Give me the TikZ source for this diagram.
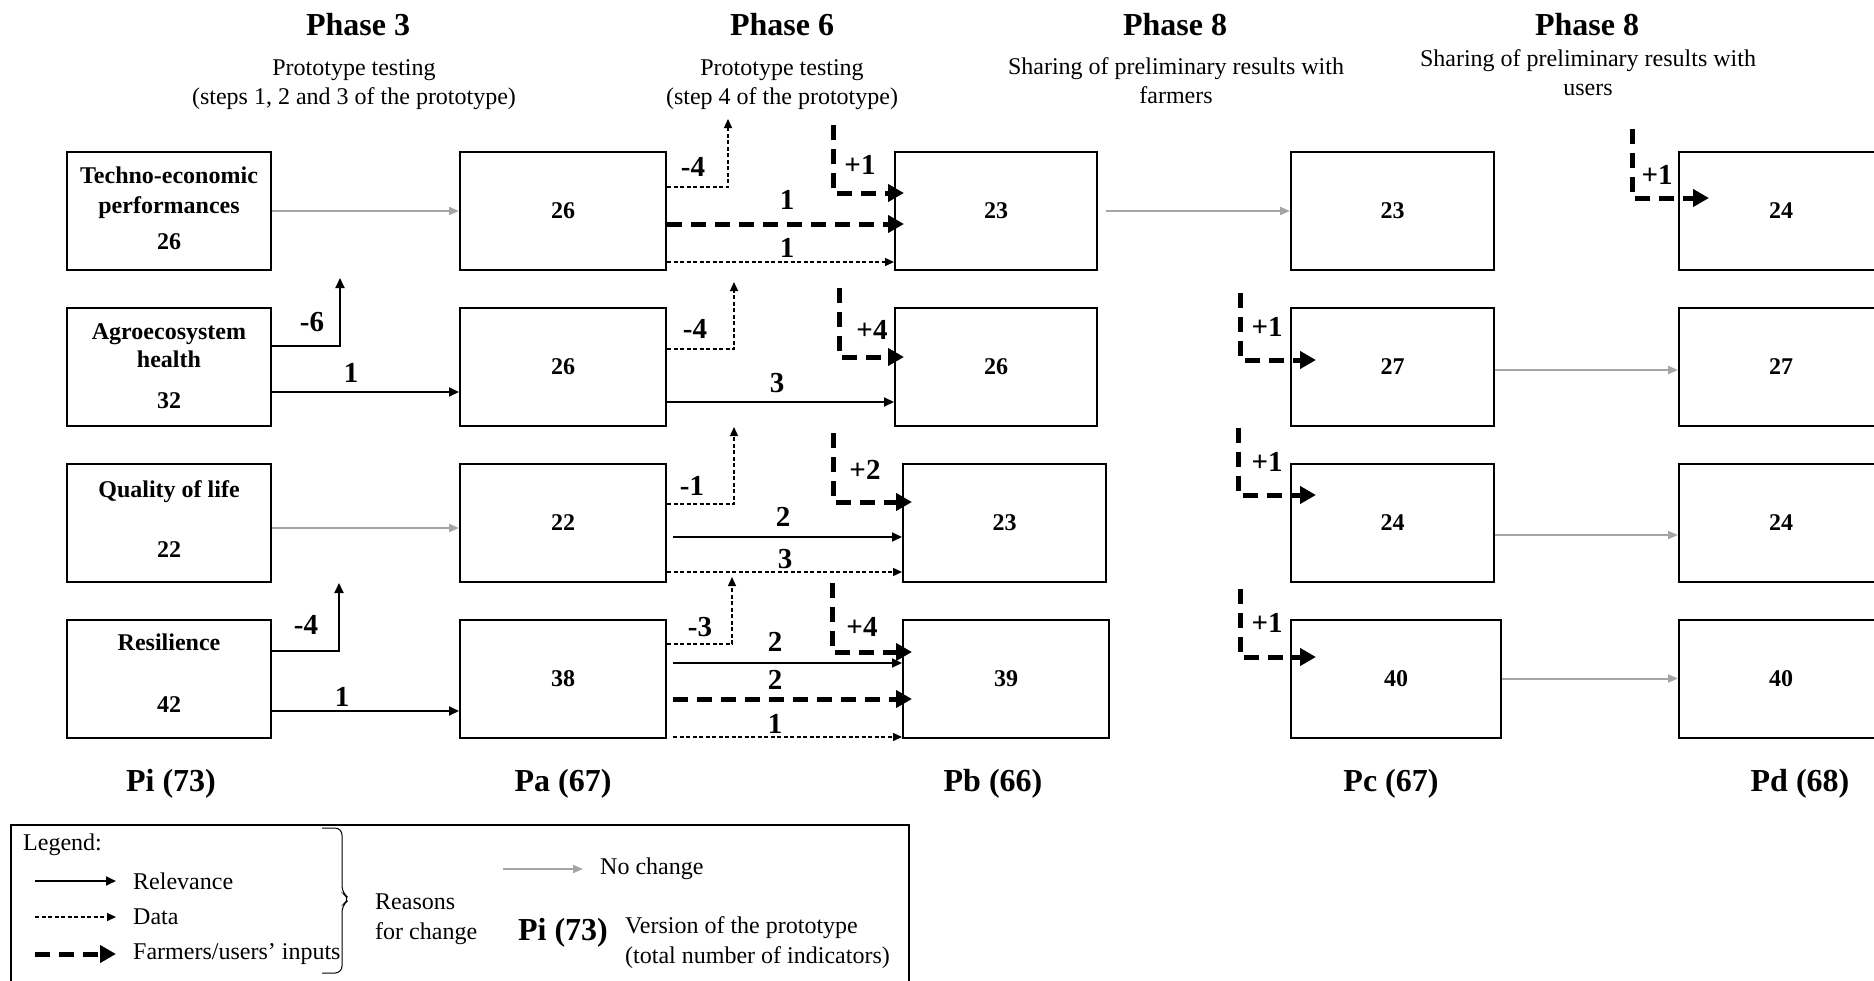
\documentclass[tikz,border=0pt]{standalone}
\usepackage{fontspec}
\setmainfont{Liberation Serif}
\usepackage{xcolor}
\usepackage{tikz}
\usetikzlibrary{arrows.meta}
\definecolor{nochg}{RGB}{165,165,165}

\begin{document}
\begin{tikzpicture}[x=1pt, y=-1pt,
  box/.style={draw, line width=2pt, minimum width=204pt, minimum height=118pt, inner sep=0pt, align=center, font=\fontsize{24}{29}\selectfont\bfseries},
  relev/.style={line width=1.8pt, -{Triangle[length=10pt,width=9pt]}},
  datal/.style={line width=1.4pt, dash pattern=on 4pt off 2.5pt, -{Triangle[length=9pt,width=8pt]}},
  farmer/.style={line width=5pt, dash pattern=on 15pt off 9pt, shorten >=-10pt, -{Triangle[length=16pt,width=17pt]}},
  nochange/.style={nochg, line width=2pt, -{Triangle[length=10pt,width=8pt]}},
  lab/.style={inner sep=0pt, font=\fontsize{29}{34}\selectfont\bfseries},
  phase/.style={inner sep=0pt, font=\fontsize{32}{38}\selectfont\bfseries},
  sub/.style={inner sep=0pt, align=center, font=\fontsize{24}{29}\selectfont},
  txt/.style={inner sep=0pt, anchor=west, align=left, font=\fontsize{24}{29}\selectfont}]
\useasboundingbox (0,0) rectangle (1874,980);
% Headers
\node[phase] (ph3) at (358,25) {Phase 3};
\node[sub] (ph3-txt) at (354,85) {Prototype testing\\(steps 1, 2 and 3 of the prototype)};
\node[phase] (ph6) at (782,25) {Phase 6};
\node[sub] (ph6-txt) at (782,85) {Prototype testing\\(step 4 of the prototype)};
\node[phase] (ph8a) at (1175,25) {Phase 8};
\node[sub] (ph8a-txt) at (1176,81) {Sharing of preliminary results with\\farmers};
\node[phase] (ph8b) at (1587,25) {Phase 8};
\node[sub] (ph8b-txt) at (1588,73) {Sharing of preliminary results with\\users};
% Pi
\node[box] (pi1) at (169,211) {Techno-economic\\[1pt]performances\\[7pt]26\\[-24pt]\mbox{}};
\node[box] (pi2) at (169,366.5) {Agroecosystem\\[-1pt]health\\[12pt]32};
\node[box] (pi3) at (169,523) {Quality of life\\[31pt]22\\[-21pt]\mbox{}};
\node[box] (pi4) at (169,678.5) {Resilience\\[33pt]42\\[-19pt]\mbox{}};
% Pa
\node[box, minimum width=206pt] (pa1) at (563,211) {26};
\node[box, minimum width=206pt] (pa2) at (563,366.5) {26};
\node[box, minimum width=206pt] (pa3) at (563,523) {22};
\node[box, minimum width=206pt] (pa4) at (563,678.5) {38};
% Pb
\node[box, minimum width=202pt] (pb1) at (996,211) {23};
\node[box, minimum width=202pt] (pb2) at (996,366.5) {26};
\node[box, minimum width=203pt] (pb3) at (1004.5,523) {23};
\node[box, minimum width=206pt] (pb4) at (1006,678.5) {39};
% Pc
\node[box, minimum width=203pt] (pc1) at (1392.5,211) {23};
\node[box, minimum width=203pt] (pc2) at (1392.5,366.5) {27};
\node[box, minimum width=203pt] (pc3) at (1392.5,523) {24};
\node[box, minimum width=210pt] (pc4) at (1396,678.5) {40};
% Pd
\node[box] (pd1) at (1781,211) {24};
\node[box] (pd2) at (1781,366.5) {27};
\node[box] (pd3) at (1781,523) {24};
\node[box] (pd4) at (1781,678.5) {40};
% Versions
\node[phase] (v-pi) at (171,784) {Pi (73)};
\node[phase] (v-pa) at (563,784) {Pa (67)};
\node[phase] (v-pb) at (993,784) {Pb (66)};
\node[phase] (v-pc) at (1391,784) {Pc (67)};
\node[phase] (v-pd) at (1800,784) {Pd (68)};
% Pi -> Pa
\draw[nochange] (pi1) -- (pa1);
\coordinate (up-i2) at (340,278);
\draw[relev] ([yshift=20.5pt]pi2.east) -| (up-i2);
\draw[relev] ([yshift=-25.5pt]pi2.east) -- ([yshift=-25.5pt]pa2.west);
\draw[nochange] ([yshift=-5pt]pi3.east) -- ([yshift=-5pt]pa3.west);
\coordinate (up-i4) at (339,583);
\draw[relev] ([yshift=27.5pt]pi4.east) -| (up-i4);
\draw[relev] ([yshift=-32.5pt]pi4.east) -- ([yshift=-32.5pt]pa4.west);
\node[lab] (l-i2a) at (312,322) {-6};
\node[lab] (l-i2b) at (351,373) {1};
\node[lab] (l-i4a) at (306,625) {-4};
\node[lab] (l-i4b) at (342,697) {1};
% Pa -> Pb
\coordinate (up-a1) at (728,119);
\coordinate (in-b1) at (833,125);
\draw[datal] ([yshift=24pt]pa1.east) -| (up-a1);
\draw[farmer] (in-b1) |- ([yshift=18pt]pb1.west);
\draw[farmer] ([yshift=-13pt]pa1.east) -- ([yshift=-13pt]pb1.west);
\draw[datal] ([yshift=-51pt]pa1.east) -- ([yshift=-51pt]pb1.west);
\node[lab] (l-a1a) at (693,167) {-4};
\node[lab] (l-b1) at (860,165) {+1};
\node[lab] (l-a1b) at (787,200) {1};
\node[lab] (l-a1c) at (787,248) {1};
\coordinate (up-a2) at (734,282);
\coordinate (in-b2) at (839,288);
\draw[datal] ([yshift=17.5pt]pa2.east) -| (up-a2);
\draw[farmer] (in-b2) |- ([yshift=9.5pt]pb2.west);
\draw[relev] ([yshift=-35.5pt]pa2.east) -- ([yshift=-35.5pt]pb2.west);
\node[lab] (l-a2a) at (695,329) {-4};
\node[lab] (l-b2) at (872,330) {+4};
\node[lab] (l-a2b) at (777,383) {3};
\coordinate (up-a3) at (734,427);
\coordinate (in-b3) at (833,433);
\draw[datal] ([yshift=19pt]pa3.east) -| (up-a3);
\draw[farmer] (in-b3) |- ([yshift=21pt]pb3.west);
\draw[relev] ([xshift=6pt,yshift=-14pt]pa3.east) -- ([yshift=-14pt]pb3.west);
\draw[datal] ([yshift=-49pt]pa3.east) -- ([yshift=-49pt]pb3.west);
\node[lab] (l-a3a) at (692,486) {-1};
\node[lab] (l-b3) at (865,470) {+2};
\node[lab] (l-a3b) at (783,517) {2};
\node[lab] (l-a3c) at (785,559) {3};
\coordinate (up-a4) at (732,577);
\coordinate (in-b4) at (832,583);
\draw[datal] ([yshift=34.5pt]pa4.east) -| (up-a4);
\draw[farmer] (in-b4) |- ([yshift=26.5pt]pb4.west);
\draw[relev] ([xshift=6pt,yshift=15.5pt]pa4.east) -- ([yshift=15.5pt]pb4.west);
\draw[farmer] ([xshift=6pt,yshift=-20.5pt]pa4.east) -- ([yshift=-20.5pt]pb4.west);
\draw[datal] ([xshift=6pt,yshift=-58.5pt]pa4.east) -- ([yshift=-58.5pt]pb4.west);
\node[lab] (l-a4a) at (700,627) {-3};
\node[lab] (l-b4) at (862,627) {+4};
\node[lab] (l-a4b) at (775,642) {2};
\node[lab] (l-a4c) at (775,680) {2};
\node[lab] (l-a4d) at (775,724) {1};
% Pb -> Pc
\draw[nochange, shorten <=8pt] (pb1) -- (pc1);
\coordinate (in-c2) at (1240,293);
\coordinate (in-c3) at (1238,428);
\coordinate (in-c4) at (1240,589);
\draw[farmer] (in-c2) |- ([xshift=16pt,yshift=6.5pt]pc2.west);
\draw[farmer] (in-c3) |- ([xshift=16pt,yshift=28pt]pc3.west);
\draw[farmer] (in-c4) |- ([xshift=16pt,yshift=21.5pt]pc4.west);
\node[lab] (l-c2) at (1267,327) {+1};
\node[lab] (l-c3) at (1267,462) {+1};
\node[lab] (l-c4) at (1267,623) {+1};
% Pc -> Pd
\coordinate (in-d1) at (1632,129);
\draw[farmer] (in-d1) |- ([xshift=21pt,yshift=13pt]pd1.west);
\node[lab] (l-d1) at (1657,175) {+1};
\draw[nochange] ([yshift=-3.5pt]pc2.east) -- ([yshift=-3.5pt]pd2.west);
\draw[nochange] ([yshift=-12pt]pc3.east) -- ([yshift=-12pt]pd3.west);
\draw[nochange] (pc4) -- (pd4);
% Legend
\draw[line width=2pt] (11,825) rectangle (909,990);
\node[txt] (lg-title) at (23,845) {Legend:};
\coordinate (lg-r0) at (35,881);
\coordinate (lg-r1) at (116,881);
\coordinate (lg-d0) at (35,917);
\coordinate (lg-d1) at (116,917);
\coordinate (lg-f0) at (35,954);
\coordinate (lg-f1) at (106,954);
\draw[relev] (lg-r0) -- (lg-r1);
\draw[datal] (lg-d0) -- (lg-d1);
\draw[farmer] (lg-f0) -- (lg-f1);
\node[txt] (lg-rel) at (133,881) {Relevance};
\node[txt] (lg-dat) at (133,917) {Data};
\node[txt] (lg-far) at (133,954) {Farmers/users' inputs};
% bracket
\draw[line width=1pt, rounded corners=7pt] (322,828) -- (342,828) -- (342,893) -- (350,899) -- (342,905) -- (342,973) -- (322,973);
\node[txt, font=\fontsize{24}{30}\selectfont] (lg-why) at (375,919) {Reasons\\for change};
\coordinate (lg-n0) at (503,869);
\coordinate (lg-n1) at (583,869);
\draw[nochange] (lg-n0) -- (lg-n1);
\node[txt] (lg-no) at (600,869) {No change};
\node[phase] (lg-pi) at (563,933) {Pi (73)};
\node[txt, font=\fontsize{24}{30}\selectfont] (lg-ver) at (625,943) {Version of the prototype\\(total number of indicators)};
\end{tikzpicture}
\end{document}
